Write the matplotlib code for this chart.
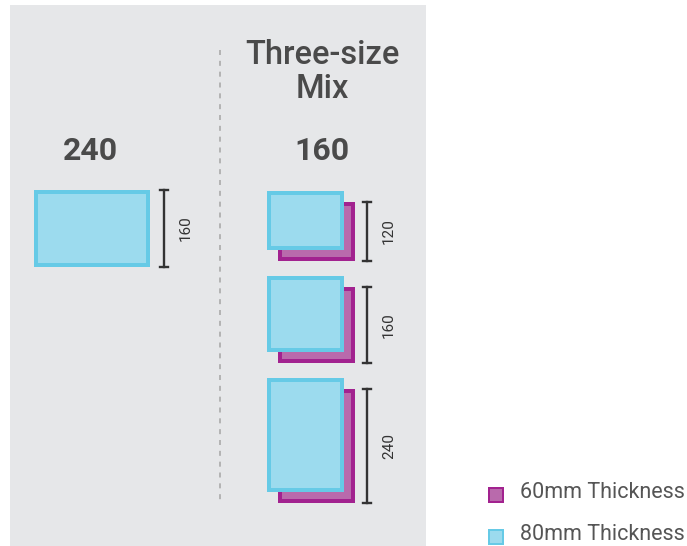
import matplotlib
matplotlib.use('Agg')
import matplotlib.pyplot as plt
from matplotlib.patches import Rectangle

plt.rcParams['font.family'] = ['Roboto', 'DejaVu Sans']

# data
single_label = '240'
single_w, single_h = 240, 160          # mm, shown as one slab
mix_title = 'Three-size\nMix'
mix_label = '160'
mix_w = 160
mix_heights = [120, 160, 240]
legend_labels = ['60mm Thickness', '80mm Thickness']

# styles
BG = '#e6e7e9'
BLUE_F, BLUE_E = '#9cdbee', '#66cae6'
PURP_F, PURP_E = '#b96aac', '#a2228f'
TXT = '#4a4a4a'
K = 0.455        # px per mm
LW = 4 * 0.72    # 4 px border in points
OFF = 11         # shadow offset px
GAP = 15

fig = plt.figure(figsize=(6.87, 5.46), dpi=100)
ax = fig.add_axes([0, 0, 1, 1])
ax.set_xlim(0, 687); ax.set_ylim(546, 0); ax.axis('off')

ax.add_patch(Rectangle((10, 5), 416, 541, fc=BG, ec='none', zorder=0))
ax.plot([220, 220], [50, 502], color='#aaaaaa', lw=1.2, dashes=(3, 3.5), zorder=1)

def bracket(x, y0, y1, label):
    ax.plot([x, x], [y0, y1], color='#333333', lw=1.7, zorder=3)
    for y in (y0, y1):
        ax.plot([x - 4, x + 4], [y, y], color='#333333', lw=1.7, zorder=3)
    ax.text(x + 22, (y0 + y1) / 2, label, rotation=90, ha='center', va='center',
            fontsize=11, color='#333333')

# left: single size
ax.text(90, 151, single_label, ha='center', va='center', fontsize=23,
        fontweight='bold', color=TXT)
x0, y0 = 36, 192
ax.add_patch(Rectangle((x0, y0), single_w * K + 3, single_h * K, fc=BLUE_F, ec=BLUE_E,
                       lw=LW, zorder=2))
bracket(164, y0 - 2, y0 + single_h * K + 2, str(single_h))

# right: three-size mix
ax.text(322, 72, mix_title, ha='center', va='center', fontsize=23.5, color=TXT,
        fontweight='medium', linespacing=1.1)
ax.text(322, 151, mix_label, ha='center', va='center', fontsize=23,
        fontweight='bold', color=TXT)
top = 193
for h in mix_heights:
    ph = h * K
    ax.add_patch(Rectangle((269 + OFF, top + OFF), mix_w * K, ph, fc=PURP_F,
                           ec=PURP_E, lw=LW, zorder=2))
    ax.add_patch(Rectangle((269, top), mix_w * K, ph, fc=BLUE_F, ec=BLUE_E,
                           lw=LW, zorder=2.5))
    bracket(367, top + OFF - 2, top + OFF + ph + 2, str(h))
    top = top + OFF + ph + 2 + GAP + 2

# legend
for (fc, ec), lab, y in zip([(PURP_F, PURP_E), (BLUE_F, BLUE_E)], legend_labels, [495, 537]):
    ax.add_patch(Rectangle((489, y - 7), 14, 14, fc=fc, ec=ec, lw=2 * 0.72, zorder=2))
    ax.text(520, y - 2, lab, ha='left', va='center', fontsize=15.5, color='#555555')

fig.savefig('out.png', dpi=100)
